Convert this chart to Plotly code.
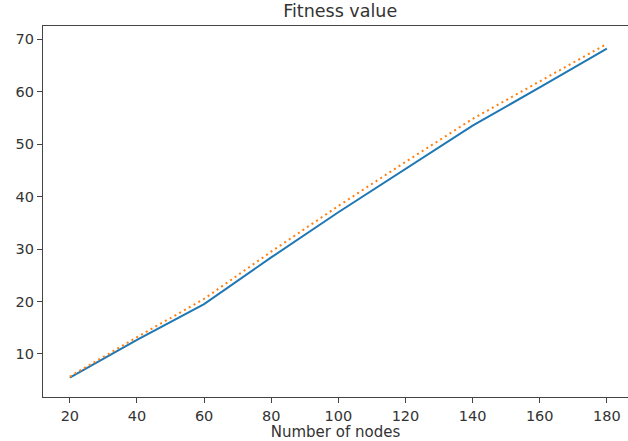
import plotly.graph_objects as go

# Number of nodes in each run
nodes = [20, 40, 60, 80, 100, 120, 140, 160, 180]

# Fitness values for the two methods
fitness_a = [5.5, 12.7, 19.5, 28.4, 37.0, 45.3, 53.5, 60.8, 68.2]
fitness_b = [5.7, 13.2, 20.5, 29.5, 38.2, 46.6, 54.8, 62.0, 69.1]

x_ticks = [20, 40, 60, 80, 100, 120, 140, 160, 180]
y_ticks = [10, 20, 30, 40, 50, 60, 70]

fig = go.Figure()
fig.add_trace(go.Scatter(
    x=nodes, y=fitness_a, mode="lines",
    line=dict(color="#1f77b4", width=2),
    showlegend=False,
))
fig.add_trace(go.Scatter(
    x=nodes, y=fitness_b, mode="lines",
    line=dict(color="#ff7f0e", width=2, dash="2px,3.5px"),
    showlegend=False,
))

axis_style = dict(
    showgrid=False, zeroline=False,
    showline=True, linecolor="#444", linewidth=1.3,
    ticks="outside", ticklen=5, tickwidth=1.2, tickcolor="#444",
    tickfont=dict(family="DejaVu Sans", size=14.5, color="#333"),
)

fig.update_layout(
    width=628, height=441,
    margin=dict(l=43, r=0, t=26, b=44),
    paper_bgcolor="white", plot_bgcolor="white",
    title=dict(
        text="Fitness value", x=0.508, xref="paper", y=0.99, yref="container",
        xanchor="center", yanchor="top",
        font=dict(family="DejaVu Sans", size=17.5, color="#333"),
    ),
    xaxis=dict(
        range=[12, 186.3], tickvals=x_ticks, mirror=True,
        title=dict(text="Number of nodes", standoff=3,
                   font=dict(family="DejaVu Sans", size=15, color="#333")),
        **axis_style,
    ),
    yaxis=dict(
        range=[1.8, 72.5], tickvals=y_ticks,
        **axis_style,
    ),
)

fig.write_html("out.html")
